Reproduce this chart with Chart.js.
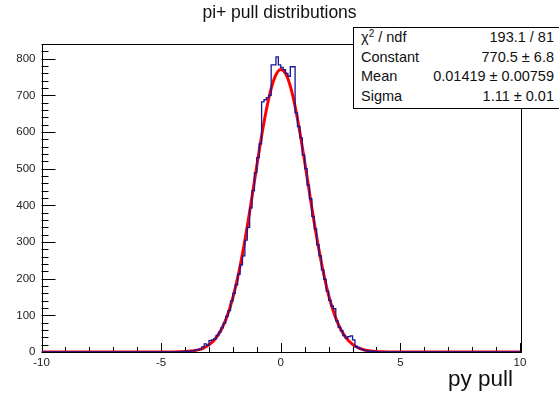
<!DOCTYPE html>
<html>
<head>
<meta charset="utf-8">
<script src="https://cdn.jsdelivr.net/npm/chart.js@4.4.1/dist/chart.umd.min.js"></script>
<style>
  body { margin:0; background:#fff; }
  #wrap { position:relative; width:559px; height:397px; overflow:hidden; font-family:"Liberation Sans", Arial, sans-serif; color:#111; }
  #titre { position:absolute; left:0; width:559px; top:2px; text-align:center; font-size:17.5px; }
  #xtitre { position:absolute; left:448px; top:366px; font-size:22.5px; }
  #stats { position:absolute; left:353px; top:27px; width:214px; height:80px; border:1px solid #000; background:#fff; font-size:14.5px; }
  #stats .lin { display:flex; justify-content:space-between; height:19.5px; line-height:19.5px; padding:0 14px 0 7px; }
  #stats .exp { font-size:10px; position:relative; top:-5px; line-height:0; }
</style>
</head>
<body>
<div id="wrap">
  <canvas id="graf" width="559" height="397"></canvas>
  <div id="titre">pi+ pull distributions</div>
  <div id="stats"></div>
  <div id="xtitre">py pull</div>
</div>
<script>
// histograma: bins de 0.1 a partir de -4.2
const binInicio = -4.2;
const binLargura = 0.1;
const contagens = [1,0,2,1,3,3,5,6,8,14,22,18,31,33,36,45,54,66,79,97,
  113,139,160,183,212,238,262,305,340,393,440,489,530,568,682,688,694,700,783,783,
  805,783,776,770,760,752,778,778,652,615,584,537,500,455,418,370,336,292,262,224,
  198,166,141,126,118,85,67,58,45,38,42,44,33,15,11,8,6,4,3,2,
  2,1,1,0];

// curva do ajuste gaussiano
const ajusteX = [-10,-4.5,-4.25,-4,-3.75,-3.5,-3.25,-3,-2.75,-2.5,-2.25,-2,-1.75,-1.5,-1.25,-1,-0.75,-0.5,-0.25,0,
  0.25,0.5,0.75,1,1.25,1.5,1.75,2,2.25,2.5,2.75,3,3.25,3.5,3.75,4,4.25,4.5,10];
const ajusteY = [0,0.2,0.5,1.1,2.5,5.1,10.2,19.3,34.7,59.3,96.2,148.6,218,304,403,508,608,692,749,770.4,
  753,700,618,519,414,314,227,155,101,62.7,37,20.7,11,5.6,2.7,1.2,0.5,0.2,0];

const ticksX = [-10,-5,0,5,10];
const ticksY = [0,100,200,300,400,500,600,700,800];

const estatLabels = ["χ² / ndf","Constant","Mean","Sigma"];
const estatValores = ["193.1 / 81","770.5 ± 6.8","0.01419 ± 0.00759","1.11 ± 0.01"];

document.getElementById("stats").innerHTML = estatLabels.map((l,i)=>
  `<div class="lin"><span>${l.replace("²","<span class='exp'>2</span>")}</span><span>${estatValores[i]}</span></div>`).join("");

const pontosHist = [{x:-10,y:0}];
contagens.forEach((c,i)=>{ pontosHist.push({x:binInicio+i*binLargura, y:c}); });
pontosHist.push({x:binInicio+contagens.length*binLargura, y:0});
pontosHist.push({x:10,y:0});

const pontosAjuste = ajusteX.map((x,i)=>({x:x, y:ajusteY[i]}));

// moldura e marcas de escala para dentro, estilo ROOT
const moldura = {
  id:'moldura',
  beforeDatasetsDraw(chart){
    const {ctx, chartArea:a, scales:{x, y}} = chart;
    ctx.save();
    ctx.strokeStyle = '#000';
    ctx.lineWidth = 1;
    ctx.strokeRect(Math.round(a.left)+0.5, Math.round(a.top)+0.5, Math.round(a.right-a.left), Math.round(a.bottom-a.top));
    ctx.beginPath();
    for(let v=y.min; v<=y.max+1e-6; v+=20){
      const py = Math.round(y.getPixelForValue(v))+0.5;
      const maior = ticksY.includes(v);
      ctx.moveTo(a.left, py);
      ctx.lineTo(a.left + (maior?14:7), py);
    }
    for(let v=x.min; v<=x.max+1e-6; v+=1){
      const px = Math.round(x.getPixelForValue(v))+0.5;
      const maior = ticksX.includes(v);
      ctx.moveTo(px, a.bottom);
      ctx.lineTo(px, a.bottom - (maior?9:5));
    }
    ctx.stroke();
    ctx.restore();
  }
};

new Chart(document.getElementById("graf"), {
  type:'line',
  data:{
    datasets:[
      { data:pontosHist, borderColor:'#16169a', borderWidth:1.3, stepped:true, pointRadius:0, fill:false },
      { data:pontosAjuste, borderColor:'#ff0000', borderWidth:3, cubicInterpolationMode:'monotone', pointRadius:0, fill:false }
    ]
  },
  options:{
    responsive:false,
    animation:false,
    devicePixelRatio:1,
    layout:{ padding:{ left:0, top:44, right:39, bottom:0 } },
    plugins:{ legend:{display:false}, tooltip:{enabled:false}, title:{display:false} },
    scales:{
      x:{
        type:'linear', min:-10, max:10,
        afterFit: s => { s.height = 45; },
        afterBuildTicks: s => { s.ticks = ticksX.map(v=>({value:v})); },
        grid:{ display:false, drawTicks:false },
        border:{ display:false },
        ticks:{ maxRotation:0, autoSkip:false, padding:4, color:'#222', font:{family:'Liberation Sans', size:11.5} }
      },
      y:{
        type:'linear', min:0, max:840,
        afterFit: s => { s.width = 41.5; },
        afterBuildTicks: s => { s.ticks = ticksY.map(v=>({value:v})); },
        grid:{ display:false, drawTicks:false },
        border:{ display:false },
        ticks:{ autoSkip:false, padding:6, color:'#222', font:{family:'Liberation Sans', size:11.5} }
      }
    }
  },
  plugins:[moldura]
});
</script>
</body>
</html>
